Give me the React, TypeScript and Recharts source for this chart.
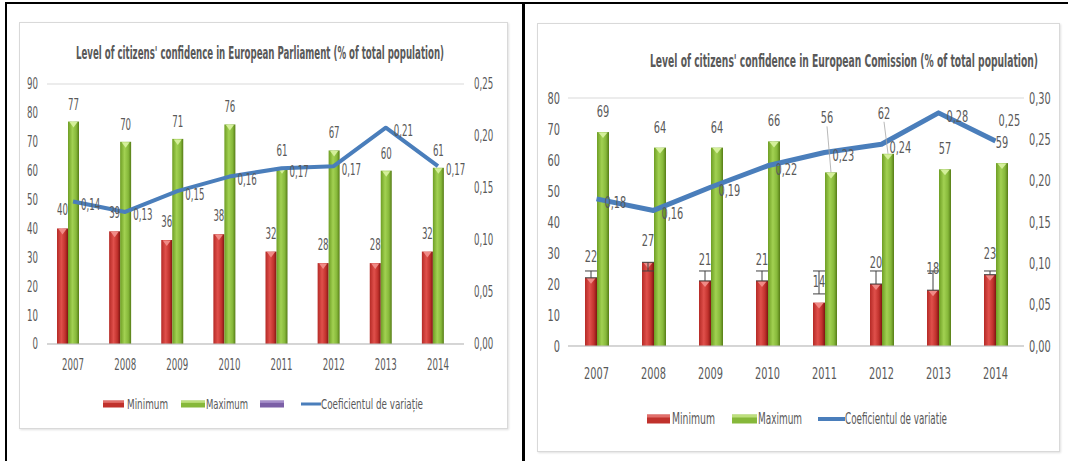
import React from 'react';
import { ComposedChart, Bar, Line, XAxis, YAxis, CartesianGrid, LabelList, ErrorBar } from 'recharts';

// ---------- data ----------
const years = ['2007', '2008', '2009', '2010', '2011', '2012', '2013', '2014'];

const parlMin = [40, 39, 36, 38, 32, 28, 28, 32];
const parlMax = [77, 70, 71, 76, 61, 67, 60, 61];
const parlCv = [0.137, 0.127, 0.147, 0.161, 0.169, 0.171, 0.208, 0.171];

const comMin = [22, 27, 21, 21, 14, 20, 18, 23];
const comMax = [69, 64, 64, 66, 56, 62, 57, 59];
const comCv = [0.178, 0.164, 0.192, 0.218, 0.234, 0.244, 0.282, 0.248];
const comErrDown = [0, 2.8, 0, 0, -2.8, 0, 0, 0];
const comErrUp = [2.2, 0, 3.2, 3.2, 10.2, 4.2, 6.2, 1.2];

const parlLeftTicks = [0, 10, 20, 30, 40, 50, 60, 70, 80, 90];
const parlRightTicks = [0, 0.05, 0.1, 0.15, 0.2, 0.25];
const comLeftTicks = [0, 10, 20, 30, 40, 50, 60, 70, 80];
const comRightTicks = [0, 0.05, 0.1, 0.15, 0.2, 0.25, 0.3];

const parlTitle = "Level of citizens' confidence in European Parliament (% of total population)";
const comTitle = "Level of citizens' confidence in European Comission (% of total population)";
const legendMin = 'Minimum';
const legendMax = 'Maximum';
const parlLegendCv = 'Coeficientul de variație';
const comLegendCv = 'Coeficientul de variatie';

const parlData = years.map((y, i) => ({ year: y, min: parlMin[i], max: parlMax[i], extra: null, cv: parlCv[i] }));
const comData = years.map((y, i) => ({ year: y, min: comMin[i], max: comMax[i], cv: comCv[i], err: [comErrDown[i], comErrUp[i]] }));

// ---------- styles ----------
const FONT = "'DejaVu Sans Condensed', 'DejaVu Sans', sans-serif";
const GRAY = '#595959';
const GRID = '#d9d9d9';
const BLUE = '#4a7ebb';

const fmt2 = (v: number) => v.toFixed(2).replace('.', ',');

// condensed text: tall glyphs squeezed horizontally
const CText = ({ x, y, anchor = 'start', size, sx, dy, children, fill = GRAY, weight }: any) => (
  <text
    transform={`translate(${x},${y}) scale(${sx},1)`}
    x={0}
    y={0}
    dy={dy}
    textAnchor={anchor}
    fontSize={size}
    fontWeight={weight}
    fontFamily={FONT}
    fill={fill}
  >
    {children}
  </text>
);

const XTick = (p: any) => (
  <CText x={p.x} y={p.y} dy="0.71em" anchor="middle" size={p.fs} sx={p.sx}>
    {p.payload.value}
  </CText>
);
const YTick = (p: any) => (
  <CText x={p.x} y={p.y} dy="0.36em" anchor={p.textAnchor} size={p.fs} sx={p.sx}>
    {p.decimals ? fmt2(p.payload.value) : p.payload.value}
  </CText>
);

function makeBarShape(gradId: string, tip: string) {
  return (p: any) => {
    const { x, y, width, height } = p;
    if (!height || height <= 0) return <g />;
    const t = Math.min(6, height);
    return (
      <g>
        <rect x={x} y={y} width={width} height={height} fill={`url(#${gradId})`} />
        <polygon points={`${x + 1.5},${y + 0.5} ${x + width - 1.5},${y + 0.5} ${x + width / 2},${y + t}`} fill={tip} />
      </g>
    );
  };
}

const Grads = ({ p }: { p: string }) => (
  <defs>
    <linearGradient id={`${p}red`} x1="0" y1="0" x2="1" y2="0">
      <stop offset="0%" stopColor="#b52a26" />
      <stop offset="40%" stopColor="#e0504b" />
      <stop offset="75%" stopColor="#c0312c" />
      <stop offset="100%" stopColor="#7e1512" />
    </linearGradient>
    <linearGradient id={`${p}green`} x1="0" y1="0" x2="1" y2="0">
      <stop offset="0%" stopColor="#6e9e24" />
      <stop offset="40%" stopColor="#a2d152" />
      <stop offset="75%" stopColor="#86b83a" />
      <stop offset="100%" stopColor="#567c16" />
    </linearGradient>
  </defs>
);

// bar value label; `lift` raises chosen labels (moved labels with leader lines)
const numLabel = (offset: number, fs: number, sx: number, lift: Record<number, number> = {}) => (p: any) => {
  const { x, y, width, value, index } = p;
  if (value == null) return null;
  const extra = lift[index] || 0;
  const cx = x + width / 2;
  return (
    <g>
      {extra > 0 && (
        <line x1={cx - 4} y1={y - offset - extra + 3} x2={cx} y2={y} stroke="#a6a6a6" strokeWidth={0.8} />
      )}
      <CText x={extra > 0 ? cx - 4 : cx} y={y - offset - extra} anchor="middle" size={fs} sx={sx}>
        {value}
      </CText>
    </g>
  );
};

const cvLabel = (fs: number, sx: number, aboveLast: boolean) => (p: any) => {
  const { x, y, value, index } = p;
  if (aboveLast && index === years.length - 1) {
    return (
      <CText x={x + 3} y={y - 15} size={fs} sx={sx}>
        {fmt2(value)}
      </CText>
    );
  }
  return (
    <CText x={x + 8} y={y + 3} dy="0.36em" size={fs} sx={sx}>
      {fmt2(value)}
    </CText>
  );
};

const Swatch = ({ x, y, w, h, c1, c2 }: any) => (
  <g>
    <rect x={x} y={y - h / 2} width={w} height={h} fill={c1} />
    <rect x={x} y={y - h / 2} width={w} height={Math.max(1, h / 3)} fill={c2} opacity={0.7} />
  </g>
);

const boxStyle: React.CSSProperties = {
  position: 'absolute',
  background: '#fff',
  border: '1px solid #d9d9d9',
  boxShadow: '1px 1px 2px rgba(0,0,0,0.12)',
  boxSizing: 'border-box',
};

function ParlChart() {
  const W = 489, H = 407;
  const fs = 15, sx = 0.64;
  return (
    <div style={{ ...boxStyle, left: 19, top: 22, width: W, height: H }}>
      <svg width={W} height={H} style={{ position: 'absolute', left: 0, top: 0 }}>
        <text x={56} y={36} textLength={368} lengthAdjust="spacingAndGlyphs" fontSize={17} fontWeight="bold" fill={GRAY} fontFamily={FONT}>
          {parlTitle}
        </text>
        <Swatch x={83} y={381} w={21} h={7} c1="#c0312c" c2="#f08a86" />
        <text x={107} y={381} dy="0.36em" textLength={41} lengthAdjust="spacingAndGlyphs" fontSize={14} fill={GRAY} fontFamily={FONT}>{legendMin}</text>
        <Swatch x={161} y={381} w={24} h={7} c1="#86b83a" c2="#d4ef9a" />
        <text x={186} y={381} dy="0.36em" textLength={42} lengthAdjust="spacingAndGlyphs" fontSize={14} fill={GRAY} fontFamily={FONT}>{legendMax}</text>
        <Swatch x={240} y={381} w={24} h={7} c1="#7b5fa6" c2="#b9a4d8" />
        <rect x={281} y={379.5} width={20} height={3} fill={BLUE} />
        <text x={301} y={381} dy="0.36em" textLength={102} lengthAdjust="spacingAndGlyphs" fontSize={14} fill={GRAY} fontFamily={FONT}>{parlLegendCv}</text>
      </svg>
      <div style={{ position: 'absolute', left: 0, top: 0 }}>
        <ComposedChart width={W} height={H} data={parlData} margin={{ top: 61, right: 0, bottom: 56, left: 0 }} barGap={0} barSize={11}>
          <Grads p="pa" />
          <CartesianGrid vertical={false} stroke={GRID} />
          <XAxis dataKey="year" height={30} tickLine={false} axisLine={{ stroke: '#bfbfbf' }} tickSize={0} tickMargin={15} tick={<XTick fs={fs} sx={sx} />} interval={0} />
          <YAxis yAxisId="l" orientation="left" width={27} domain={[0, 90]} ticks={parlLeftTicks} tickLine={false} axisLine={false} tickSize={0} tickMargin={9} tick={<YTick fs={fs} sx={sx} />} interval={0} />
          <YAxis yAxisId="r" orientation="right" width={45} domain={[0, 0.25]} ticks={parlRightTicks} tickLine={false} axisLine={false} tickSize={0} tickMargin={10} tick={<YTick decimals fs={fs} sx={sx} />} interval={0} />
          <Bar yAxisId="l" dataKey="min" isAnimationActive={false} shape={makeBarShape('pared', '#f08a86')}>
            <LabelList dataKey="min" content={numLabel(13, fs, sx)} />
          </Bar>
          <Bar yAxisId="l" dataKey="max" isAnimationActive={false} shape={makeBarShape('pagreen', '#d4ef9a')}>
            <LabelList dataKey="max" content={numLabel(12, fs, sx)} />
          </Bar>
          <Bar yAxisId="l" dataKey="extra" isAnimationActive={false} fill="#7b5fa6" />
          <Line yAxisId="r" dataKey="cv" stroke={BLUE} strokeWidth={4} dot={false} isAnimationActive={false} strokeLinejoin="round">
            <LabelList dataKey="cv" content={cvLabel(fs, sx, false)} />
          </Line>
        </ComposedChart>
      </div>
    </div>
  );
}

function ComChart() {
  const W = 523, H = 429;
  const fs = 16, sx = 0.68;
  return (
    <div style={{ ...boxStyle, left: 537, top: 23, width: W, height: H }}>
      <svg width={W} height={H} style={{ position: 'absolute', left: 0, top: 0 }}>
        <text x={112} y={43} textLength={388} lengthAdjust="spacingAndGlyphs" fontSize={18} fontWeight="bold" fill={GRAY} fontFamily={FONT}>
          {comTitle}
        </text>
        <Swatch x={109} y={395} w={23} h={9} c1="#c0312c" c2="#f08a86" />
        <text x={134} y={395} dy="0.36em" textLength={43} lengthAdjust="spacingAndGlyphs" fontSize={15} fill={GRAY} fontFamily={FONT}>{legendMin}</text>
        <Swatch x={194} y={395} w={25} h={9} c1="#86b83a" c2="#d4ef9a" />
        <text x={220} y={395} dy="0.36em" textLength={44} lengthAdjust="spacingAndGlyphs" fontSize={15} fill={GRAY} fontFamily={FONT}>{legendMax}</text>
        <rect x={280} y={393} width={27} height={4} fill={BLUE} />
        <text x={307} y={395} dy="0.36em" textLength={102} lengthAdjust="spacingAndGlyphs" fontSize={15} fill={GRAY} fontFamily={FONT}>{comLegendCv}</text>
      </svg>
      <div style={{ position: 'absolute', left: 0, top: 0 }}>
        <ComposedChart width={W} height={H} data={comData} margin={{ top: 74, right: 0, bottom: 77, left: 0 }} barGap={0} barSize={12}>
          <Grads p="co" />
          <CartesianGrid vertical={false} stroke={GRID} />
          <XAxis dataKey="year" height={30} tickLine={false} axisLine={{ stroke: '#bfbfbf' }} tickSize={0} tickMargin={22} tick={<XTick fs={fs} sx={sx} />} interval={0} />
          <YAxis yAxisId="l" orientation="left" width={30} domain={[0, 80]} ticks={comLeftTicks} tickLine={false} axisLine={false} tickSize={0} tickMargin={8} tick={<YTick fs={fs} sx={sx} />} interval={0} />
          <YAxis yAxisId="r" orientation="right" width={37} domain={[0, 0.3]} ticks={comRightTicks} tickLine={false} axisLine={false} tickSize={0} tickMargin={5} tick={<YTick decimals fs={fs} sx={sx} />} interval={0} />
          <Bar yAxisId="l" dataKey="min" isAnimationActive={false} shape={makeBarShape('cored', '#f08a86')}>
            <ErrorBar dataKey="err" width={6} stroke="#404040" strokeWidth={1} direction="y" />
            <LabelList dataKey="min" content={numLabel(16, fs, sx)} />
          </Bar>
          <Bar yAxisId="l" dataKey="max" isAnimationActive={false} shape={makeBarShape('cogreen', '#d4ef9a')}>
            <LabelList dataKey="max" content={numLabel(15, fs, sx, { 4: 34, 5: 20 })} />
          </Bar>
          <Line yAxisId="r" dataKey="cv" stroke={BLUE} strokeWidth={5} dot={false} isAnimationActive={false} strokeLinejoin="round">
            <LabelList dataKey="cv" content={cvLabel(fs, sx, true)} />
          </Line>
        </ComposedChart>
      </div>
    </div>
  );
}

export default function App() {
  return (
    <div style={{ position: 'fixed', left: 0, top: 0, width: 1068, height: 461, background: '#fff', overflow: 'hidden' }}>
      <div style={{ position: 'absolute', left: 5, top: 2, width: 1063, height: 2, background: '#000' }} />
      <div style={{ position: 'absolute', left: 5, top: 2, width: 2, height: 459, background: '#000' }} />
      <div style={{ position: 'absolute', left: 522, top: 2, width: 3, height: 459, background: '#000' }} />
      <ParlChart />
      <ComChart />
    </div>
  );
}
